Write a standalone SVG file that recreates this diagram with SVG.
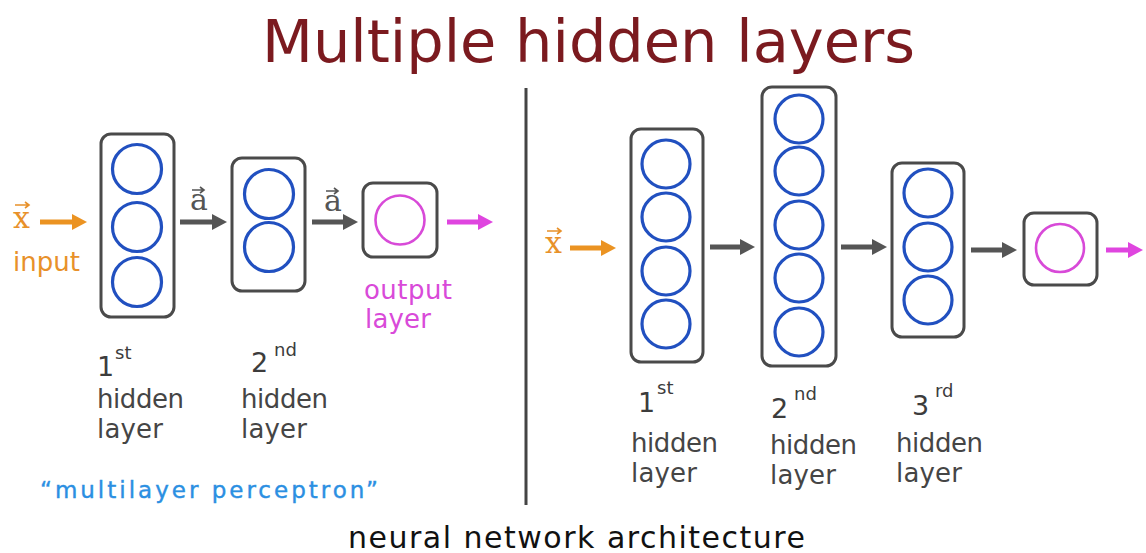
<svg xmlns="http://www.w3.org/2000/svg" width="1146" height="553" viewBox="0 0 1146 553">
<style>
.box{fill:#fff;stroke:#4a4a4a;stroke-width:3}
.neu{fill:none;stroke:#2150c0;stroke-width:3.2}
.out{fill:none;stroke:#d84ad8;stroke-width:2.6}
.lbl{font-family:"DejaVu Sans",Verdana,sans-serif;font-size:26px;fill:#454545}
.ord{font-family:"DejaVu Sans",sans-serif;font-size:27px;fill:#3c3c3c}
.sup{font-family:"DejaVu Sans",sans-serif;font-size:18px;fill:#3c3c3c}
.vec{font-family:"DejaVu Serif",serif;font-size:30px}
.acc{fill:none;stroke-width:1.6}
.ag{stroke:#555;stroke-width:5;fill:none}
.ao{stroke:#eb9322;stroke-width:5;fill:none}
.am{stroke:#df45df;stroke-width:5;fill:none}
</style>
<defs>
<marker id="hg" markerUnits="userSpaceOnUse" markerWidth="16" markerHeight="16" refX="3" refY="8" orient="auto"><path d="M0,0 L15,8 L0,16 z" fill="#555"/></marker>
<marker id="ho" markerUnits="userSpaceOnUse" markerWidth="16" markerHeight="16" refX="3" refY="8" orient="auto"><path d="M0,0 L15,8 L0,16 z" fill="#eb9322"/></marker>
<marker id="hm" markerUnits="userSpaceOnUse" markerWidth="16" markerHeight="16" refX="3" refY="8" orient="auto"><path d="M0,0 L15,8 L0,16 z" fill="#df45df"/></marker>
</defs>
<rect width="1146" height="553" fill="#fff"/>
<text id="title" x="262" y="62" font-family="DejaVu Sans,Verdana,sans-serif" font-size="59" fill="#7b1a1f" textLength="653" lengthAdjust="spacingAndGlyphs">Multiple hidden layers</text>
<line id="divider" x1="526" y1="88" x2="526" y2="505" stroke="#444" stroke-width="3"/>

<!-- Left network -->
<g id="L-input">
<text class="vec" x="13" y="228" fill="#e8912a">x</text>
<path class="acc" stroke="#e8912a" d="M15,205 H29 M25,202 L29,205 L25,208"/>
<text x="13" y="271" font-family="DejaVu Sans,sans-serif" font-size="26" fill="#e8912a" textLength="67">input</text>
</g>
<g id="L-hidden1">
<rect class="box" x="101" y="134" width="73" height="183" rx="10"/>
<circle class="neu" cx="137" cy="169" r="24.5"/>
<circle class="neu" cx="137" cy="227" r="24.5"/>
<circle class="neu" cx="137" cy="282" r="24.5"/>
<text class="ord" x="97" y="376">1</text><text class="sup" x="115" y="359">st</text>
<text class="lbl" x="97" y="408" textLength="87">hidden</text>
<text class="lbl" x="97" y="438" textLength="66">layer</text>
</g>
<g id="L-hidden2">
<rect class="box" x="232" y="158" width="73" height="133" rx="10"/>
<circle class="neu" cx="269" cy="194" r="24.5"/>
<circle class="neu" cx="269" cy="247" r="24.5"/>
<text class="ord" x="251" y="372">2</text><text class="sup" x="274" y="356">nd</text>
<text class="lbl" x="241" y="408" textLength="87">hidden</text>
<text class="lbl" x="241" y="438" textLength="66">layer</text>
</g>
<g id="L-output">
<rect class="box" x="363" y="183" width="74" height="74" rx="10"/>
<circle class="out" cx="400" cy="220" r="24.5"/>
<text x="364" y="299" font-family="DejaVu Sans,sans-serif" font-size="26" fill="#d94ad9" textLength="88">output</text>
<text x="365" y="328" font-family="DejaVu Sans,sans-serif" font-size="26" fill="#d94ad9" textLength="66">layer</text>
</g>
<text id="mlp" x="40" y="498" font-family="DejaVu Sans,sans-serif" font-size="23" fill="#2b8fe2" stroke="#2b8fe2" stroke-width="0.4" textLength="338" lengthAdjust="spacing">“multilayer perceptron”</text>

<!-- Right network -->
<g id="R-input">
<text class="vec" x="545" y="253" fill="#e8912a">x</text>
<path class="acc" stroke="#e8912a" d="M547,231 H561 M557,228 L561,231 L557,234"/>
</g>
<g id="R-hidden1">
<rect class="box" x="631" y="129" width="72" height="233" rx="10"/>
<circle class="neu" cx="666" cy="164" r="24"/>
<circle class="neu" cx="666" cy="217" r="24"/>
<circle class="neu" cx="666" cy="271" r="24"/>
<circle class="neu" cx="666" cy="324" r="24"/>
<text class="ord" x="638" y="412">1</text><text class="sup" x="657" y="394">st</text>
<text class="lbl" x="631" y="452" textLength="87">hidden</text>
<text class="lbl" x="631" y="482" textLength="66">layer</text>
</g>
<g id="R-hidden2">
<rect class="box" x="762" y="87" width="74" height="279" rx="10"/>
<circle class="neu" cx="799" cy="119" r="24"/>
<circle class="neu" cx="799" cy="171" r="24"/>
<circle class="neu" cx="799" cy="225" r="24"/>
<circle class="neu" cx="799" cy="278" r="24"/>
<circle class="neu" cx="799" cy="332" r="24"/>
<text class="ord" x="771" y="418">2</text><text class="sup" x="794" y="400">nd</text>
<text class="lbl" x="770" y="454" textLength="87">hidden</text>
<text class="lbl" x="770" y="484" textLength="66">layer</text>
</g>
<g id="R-hidden3">
<rect class="box" x="892" y="163" width="72" height="174" rx="10"/>
<circle class="neu" cx="928" cy="193" r="24"/>
<circle class="neu" cx="928" cy="247" r="24"/>
<circle class="neu" cx="928" cy="300" r="24"/>
<text class="ord" x="912" y="415">3</text><text class="sup" x="935" y="397">rd</text>
<text class="lbl" x="896" y="452" textLength="87">hidden</text>
<text class="lbl" x="896" y="482" textLength="66">layer</text>
</g>
<g id="R-output">
<rect class="box" x="1024" y="213" width="73" height="72" rx="10"/>
<circle class="out" cx="1060" cy="248" r="24"/>
</g>

<text id="caption" x="348" y="548" font-family="DejaVu Sans,Verdana,sans-serif" font-size="30" fill="#111" textLength="457">neural network architecture</text>

<g id="connectors">
<line class="ao" x1="40" y1="222" x2="75" y2="222" marker-end="url(#ho)"/>
<line class="ag" x1="180" y1="222" x2="215" y2="222" marker-end="url(#hg)"/>
<text class="vec" x="190" y="210" font-size="24" fill="#555">a</text>
<path class="acc" stroke="#555" d="M192,190 H204 M200,187 L204,190 L200,193"/>
<line class="ag" x1="312" y1="222" x2="346" y2="222" marker-end="url(#hg)"/>
<text class="vec" x="324" y="211" font-size="24" fill="#555">a</text>
<path class="acc" stroke="#555" d="M326,191 H338 M334,188 L338,191 L334,194"/>
<line class="am" x1="447" y1="222" x2="481" y2="222" marker-end="url(#hm)"/>
<line class="ao" x1="570" y1="248" x2="604" y2="248" marker-end="url(#ho)"/>
<line class="ag" x1="710" y1="247" x2="743" y2="247" marker-end="url(#hg)"/>
<line class="ag" x1="841" y1="247" x2="875" y2="247" marker-end="url(#hg)"/>
<line class="ag" x1="971" y1="250" x2="1005" y2="250" marker-end="url(#hg)"/>
<line class="am" x1="1106" y1="250" x2="1131" y2="250" marker-end="url(#hm)"/>
</g>
</svg>
